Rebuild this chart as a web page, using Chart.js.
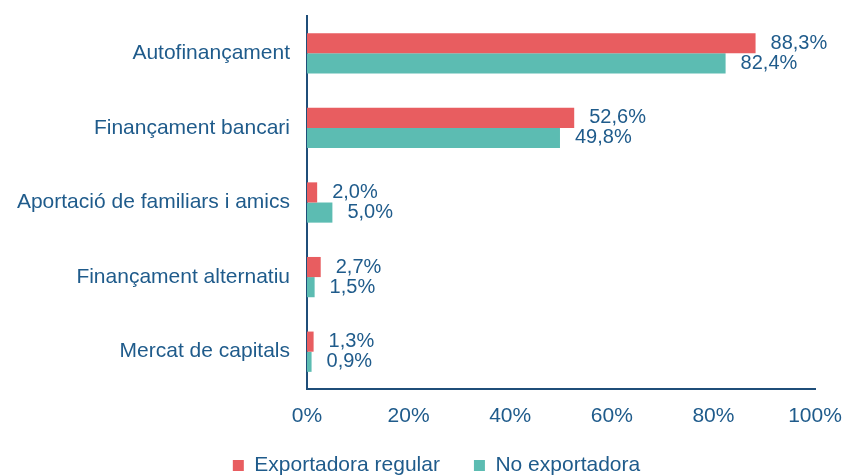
<!DOCTYPE html>
<html>
<head>
<meta charset="utf-8">
<script src="https://cdn.jsdelivr.net/npm/chart.js@4.4.1/dist/chart.umd.min.js"></script>
<style>
  html, body { margin: 0; padding: 0; background: #fff; overflow: hidden; }
  #wrap { width: 847px; height: 476px; overflow: hidden; }
</style>
</head>
<body>
<div id="wrap"><canvas id="chart" width="847" height="499"></canvas></div>
<script>
// Fonts de finançament
const categories = ['Autofinançament', 'Finançament bancari', 'Aportació de familiars i amics', 'Finançament alternatiu', 'Mercat de capitals'];
const exportadoraRegular = [88.3, 52.6, 2.0, 2.7, 1.3];
const noExportadora = [82.4, 49.8, 5.0, 1.5, 0.9];
const xTicks = [0, 20, 40, 60, 80, 100];

const textColor = '#1f5b8b';
const axisColor = '#1f4e79';
const fontFamily = '"Liberation Sans", Arial, sans-serif';

// etiquetes de valor a la dreta de cada barra
const valueLabels = {
    id: 'valueLabels',
    afterDatasetsDraw(chart) {
        const ctx = chart.ctx;
        ctx.save();
        ctx.font = `20px ${fontFamily}`;
        ctx.fillStyle = textColor;
        ctx.textAlign = 'left';
        ctx.textBaseline = 'middle';
        chart.data.datasets.forEach((ds, i) => {
            chart.getDatasetMeta(i).data.forEach((bar, j) => {
                const txt = ds.data[j].toFixed(1).replace('.', ',') + '%';
                ctx.fillText(txt, bar.x + 15, bar.y);
            });
        });
        ctx.restore();
    }
};

// la llegenda una mica més amunt i a la dreta, com a l'original
const moveLegend = {
    id: 'moveLegend',
    afterLayout(chart) {
        const lg = chart.legend;
        lg.top -= 13; lg.bottom -= 13;
        lg.left += 29; lg.right += 29;
    }
};

new Chart(document.getElementById('chart').getContext('2d'), {
    type: 'bar',
    data: {
        labels: categories,
        datasets: [{
            label: 'Exportadora regular',
            data: exportadoraRegular,
            backgroundColor: '#e85d60'
        }, {
            label: 'No exportadora',
            data: noExportadora,
            backgroundColor: '#5cbcb2'
        }]
    },
    options: {
        indexAxis: 'y',
        responsive: false,
        animation: false,
        layout: { padding: { top: 16, right: 32, left: 0, bottom: 0 } },
        categoryPercentage: 0.54,
        barPercentage: 1.0,
        plugins: {
            legend: {
                position: 'bottom',
                labels: {
                    color: textColor,
                    font: { family: fontFamily, size: 21 },
                    boxWidth: 11,
                    boxHeight: 11,
                    padding: 34
                }
            },
            tooltip: { enabled: false }
        },
        scales: {
            x: {
                min: 0,
                max: 100,
                afterBuildTicks: (scale) => { scale.ticks = xTicks.map(v => ({ value: v })); },
                afterFit: (scale) => {
                    scale.height = 45;
                    scale.paddingLeft = 0;
                    scale.paddingRight = 0;
                },
                grid: { display: false, drawTicks: false },
                border: { display: true, color: axisColor, width: 2 },
                ticks: {
                    color: textColor,
                    font: { family: fontFamily, size: 21 },
                    padding: 15,
                    callback: (v) => v + '%'
                }
            },
            y: {
                grid: { display: false, drawTicks: false },
                border: { display: true, color: axisColor, width: 2 },
                afterFit: (scale) => {
                    scale.width = 307;
                    scale.paddingTop = 0;
                    scale.paddingBottom = 0;
                },
                ticks: {
                    color: textColor,
                    font: { family: fontFamily, size: 21 },
                    padding: 17
                }
            }
        }
    },
    plugins: [valueLabels, moveLegend]
});
</script>
</body>
</html>
